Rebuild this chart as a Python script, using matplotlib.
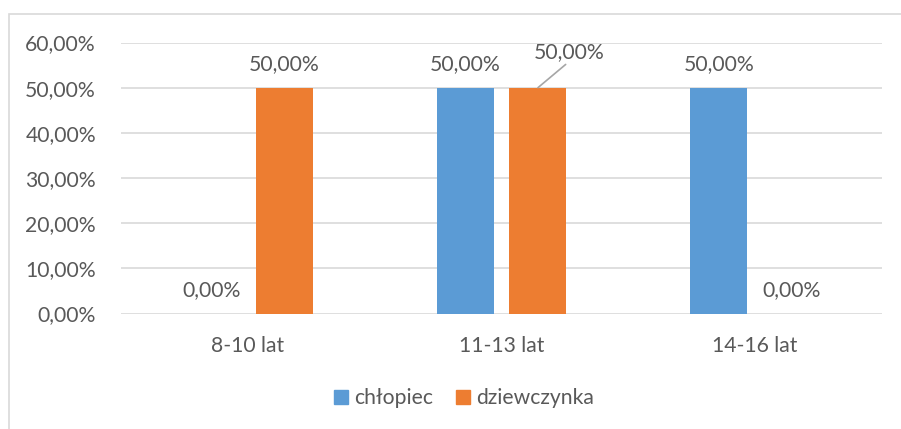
import matplotlib
matplotlib.use("Agg")
import matplotlib.pyplot as plt
from matplotlib.patches import Rectangle, Patch
import numpy as np

categories = ["8-10 lat", "11-13 lat", "14-16 lat"]
series_names = ["chłopiec", "dziewczynka"]
chlopiec = [0.0, 0.5, 0.5]
dziewczynka = [0.5, 0.5, 0.0]
yticks = [0.0, 0.1, 0.2, 0.3, 0.4, 0.5, 0.6]

BLUE = "#5B9BD5"
ORANGE = "#ED7D31"
TXT = "#595959"
GRID = "#D9D9D9"
FS = 15.2

plt.rcParams['font.family'] = ['Lato', 'DejaVu Sans']

fig = plt.figure(figsize=(9.01, 4.29), dpi=100)
fig.patches.append(Rectangle((9/901, -0.1), 1.2, 1 - 14/429 + 0.1, transform=fig.transFigure,
                             fill=False, edgecolor=GRID, linewidth=1.2, zorder=0))

ax = fig.add_axes([121/901, (429-313.5)/429, (882-121)/901, (313.5-42.5)/429])
x = np.arange(len(categories))
w = 0.2246
off = 0.1437
b1 = ax.bar(x - off, chlopiec, w, color=BLUE, zorder=3)
b2 = ax.bar(x + off, dziewczynka, w, color=ORANGE, zorder=3)

ax.set_xlim(-0.5, 2.5)
ax.set_ylim(0, 0.6)
ax.set_yticks(yticks)
ax.set_yticklabels([f"{v*100:.2f}%".replace(".", ",") for v in yticks])
ax.set_xticks(x)
ax.set_xticklabels(categories)
ax.tick_params(axis='both', length=0, labelsize=FS, labelcolor=TXT)
ax.tick_params(axis='y', pad=18)
ax.tick_params(axis='x', pad=16)
for s in ax.spines.values():
    s.set_visible(False)
ax.grid(axis='y', color=GRID, linewidth=1.2, zorder=0)
ax.set_axisbelow(True)

def fmt(v):
    return f"{v*100:.2f}%".replace(".", ",")

for i, v in enumerate(chlopiec):
    ax.annotate(fmt(v), (x[i] - off, v), xytext=(0, 12.3), textcoords='offset points',
                ha='center', va='baseline', fontsize=FS, color=TXT)
for i, v in enumerate(dziewczynka):
    if i == 1:
        # moved label with leader line
        lx, ly = x[i] + 0.266, v + 0.0797
        ax.annotate(fmt(v), (x[i] + off, v), xytext=(lx, ly), textcoords='data',
                    ha='center', va='center', fontsize=FS, color=TXT,
                    arrowprops=dict(arrowstyle='-', color='#A6A6A6', lw=1.2,
                                    shrinkA=0, shrinkB=0,
                                    relpos=(0.5, 0.0)))
    else:
        ax.annotate(fmt(v), (x[i] + off, v), xytext=(0, 12.3), textcoords='offset points',
                    ha='center', va='baseline', fontsize=FS, color=TXT)

handles = [Patch(color=BLUE, label=series_names[0]), Patch(color=ORANGE, label=series_names[1])]
leg = fig.legend(handles=handles, loc='center', bbox_to_anchor=(464/901, 1 - 398/429), ncol=2,
                 frameon=False, fontsize=FS, handlelength=0.65, handleheight=0.65,
                 handletextpad=0.3, columnspacing=1.1, labelcolor=TXT)

fig.savefig("out.png", dpi=100)
